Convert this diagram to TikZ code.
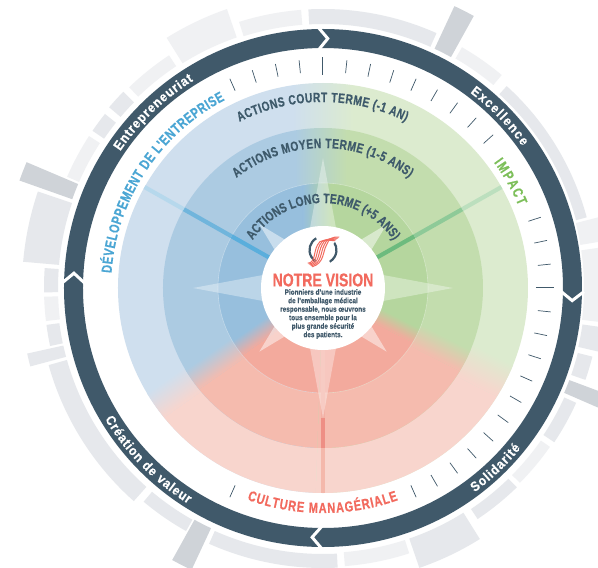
\documentclass[tikz,border=0pt]{standalone}
\usepackage{fontspec}
\usetikzlibrary{decorations.text,calc}
\setmainfont{Liberation Sans}
\newfontfamily\cfa[FakeStretch=0.76,FakeBold=0.5]{Liberation Sans Bold}
\newfontfamily\cfb[FakeStretch=0.9,FakeBold=0.4]{Liberation Sans Bold}
\newfontfamily\cfc[FakeStretch=0.84,FakeBold=0.2]{Liberation Sans Bold}
\definecolor{dark}{HTML}{40596A}
\definecolor{labeldark}{HTML}{3E5A6B}
\definecolor{grayA}{HTML}{E6E8EC}
\definecolor{grayB}{HTML}{F0F1F3}
\definecolor{grayC}{HTML}{CFD3D8}
\definecolor{blueA}{HTML}{CFDFEE}
\definecolor{blueB}{HTML}{ACCBE2}
\definecolor{blueC}{HTML}{97BFDD}
\definecolor{greenA}{HTML}{DCEBCF}
\definecolor{greenB}{HTML}{C3DDAE}
\definecolor{greenC}{HTML}{B5D69E}
\definecolor{redA}{HTML}{F8D5CD}
\definecolor{redB}{HTML}{F5BBAE}
\definecolor{redC}{HTML}{F3AA9D}
\definecolor{logored}{HTML}{F26A5E}
\definecolor{tblue}{HTML}{4BA6D4}
\definecolor{tgreen}{HTML}{7DBF5A}
\definecolor{spG1}{HTML}{6DBB7E}
\definecolor{spG2}{HTML}{8ECA98}
\definecolor{spG3}{HTML}{BCDFBE}
\definecolor{spB1}{HTML}{5AAEDC}
\definecolor{spB2}{HTML}{70B5DC}
\definecolor{spB3}{HTML}{B6D8EC}
\definecolor{spR1}{HTML}{F3B0A4}
\definecolor{spR2}{HTML}{EE8F85}
\definecolor{spR3}{HTML}{F4B8AB}
\newcommand\annseg[5]{\fill[#5] (#1:#3) arc[start angle=#1,end angle=#2,radius=#3 pt] -- (#2:#4) arc[start angle=#2,end angle=#1,radius=#4 pt] -- cycle;}
\newcommand\gradisc[8]{%
 \begin{scope}\clip (0,0) circle[radius=#1 pt];
  \begin{scope}\clip (0,0)--(178:400)--(272:400)--cycle;
   \fill[#2] (-400,-400) rectangle (400,400);
   \begin{scope}[transform canvas={rotate=215}]
    \fill[#4] (-400,#7) rectangle (400,400);
    \shade[bottom color=#2,top color=#4] (-400,-#7) rectangle (400,#7);
   \end{scope}
  \end{scope}
  \begin{scope}\clip (0,0)--(268:400)--(362:400)--cycle;
   \fill[#3] (-400,-400) rectangle (400,400);
   \begin{scope}[transform canvas={rotate=-27}]
    \fill[#4] (-400,-400) rectangle (400,-#8);
    \shade[bottom color=#4,top color=#3] (-400,-#8) rectangle (400,#8);
   \end{scope}
  \end{scope}
  \begin{scope}\clip (-400,0) rectangle (400,400);
   \fill[#2] (-400,0) rectangle (#5,400);
   \fill[#3] (#6,0) rectangle (400,400);
   \shade[left color=#2,right color=#3] (#5,0) rectangle (#6,400);
  \end{scope}
 \end{scope}}
\newcommand\arctext[5]{\path[decorate,decoration={text along path,text align=fit to path,text={|#1|#5}}] (#2:#4) arc[start angle=#2,end angle=#3,radius=#4 pt];}
\begin{document}
\begin{tikzpicture}[x=1pt,y=1pt,
  tick/.style={draw=dark,line width=0.7pt},
  spike/.style={fill=white,fill opacity=0.35},
  dspike/.style={fill=white,fill opacity=0.48},
  spoke/.style={line width=4.2pt},
  chev/.style={draw=white,line width=3pt,miter limit=10},
  stripe/.style={draw=logored,line width=1pt}]
\useasboundingbox (-323,-280) rectangle (275,288);
\clip (-323,-280) rectangle (275,288);
\fill[white] (-323,-280) rectangle (275,288);
\foreach \a/\b/\r/\s/\c in {
 94.5/107.5/264/279/grayB, 66/93/264/279/grayA, 61/65/264/311/grayC,
 50/60/265/278/grayB, 15/47.7/262/273/grayA, 9.5/14.4/261/288/grayB,
 -7/8.3/261/300/grayB, -13/-8/262/300/grayA, -19.3/-14.3/263/278/grayA,
 -23.5/-20.5/263/315/grayC, -33.7/-24.4/265/278/grayA, -44.7/-35/266/277/grayB,
 -56.2/-45.8/266/278/grayA, -71/-58/265/296/grayA, -85.5/-72/265/279/grayB,
 246/273/266/280/grayA, 241/245/265/311/grayC, 230/240.6/266/279/grayA,
 195.7/228.4/266/285/grayA, 192.5/195/266/303/grayA, 187.6/192/266/279/grayA,
 181.8/186.8/265/279/grayB, 175.9/180.9/265/279/grayA, 161.3/175/265/301/grayA,
 157/160.5/266/322/grayC, 147/156.5/266/279/grayB, 141.4/145.7/265/279/grayA,
 135.5/139.8/265/280/grayA, 123.5/134/266/279/grayB, 109/122/265/295/grayB}
 {\annseg{\a}{\b}{\r}{\s}{\c}}
\draw[dark,line width=19pt] (0,0) circle[radius=249.5pt];
\foreach \b/\t in {91.1/88.9, -0.8/-2.9, 269.8/267.5, 178.9/176.6}
 {\draw[chev] (\b:261) -- (\t:249.5) -- (\b:238);}
\gradisc{205}{blueA}{greenA}{redA}{-30}{30}{15}{18}
\gradisc{160}{blueB}{greenB}{redB}{-28}{24}{12}{12}
\gradisc{105}{blueC}{greenC}{redC}{-20}{8}{9}{8}
\draw[white,opacity=0.35,line width=0.6pt] (0,0) circle[radius=105pt];
\draw[spoke,color=spB1] (150.5:62) -- (150.5:105);
\draw[spoke,color=spB2] (150.5:105) -- (150.5:160);
\draw[spoke,color=spB3] (150.5:160) -- (150.5:205);
\draw[spoke,color=spG1] (29.5:62) -- (29.5:105);
\draw[spoke,color=spG2] (29.5:105) -- (29.5:160);
\draw[spoke,color=spG3] (29.5:160) -- (29.5:205);
\draw[spoke,color=spR1] (270:62) -- (270:130);
\draw[spoke,color=spR2] (270:130) -- (270:160);
\draw[spoke,color=spR3] (270:160) -- (270:205);
\foreach \a in {0,90,180,270}
 {\fill[spike] (\a:130) -- ($(\a:60)+(\a+90:13)$) -- ($(\a:60)+(\a-90:13)$) -- cycle;}
\foreach \a in {45,135,225,315}
 {\fill[dspike] (\a:90) -- ($(\a:58)+(\a+90:8)$) -- ($(\a:58)+(\a-90:8)$) -- cycle;}
\foreach \a in {84,78,...,42,18,12,6,-6,-12,...,-66,96,102,108,114,246}
 {\draw[tick] (\a:216) -- (\a:229);}
\foreach \a in {90,0}
 {\draw[tick,line width=1pt] (\a:213) -- (\a:231);}
\fill[white] (0,0) circle[radius=62pt];
\begin{scope}[shift={(0,38)}]
 \draw[dark,line width=2.2pt] (120:13.5) arc[start angle=120,end angle=240,radius=13.5pt];
 \draw[dark,line width=2.2pt] (60:13.5) arc[start angle=60,end angle=-60,radius=13.5pt];
 \fill[white] (-14,-17) .. controls (-3,-16) and (-9,-2) .. (-5,9) .. controls (-2,15) and (7,15) .. (15,13) -- (12,8) .. controls (8,6) and (10,-6) .. (6,-11) .. controls (2,-17) and (-6,-19) .. (-14,-17) -- cycle;
 \foreach \d in {-4.5,-2.25,0,2.25,4.5}
  {\draw[stripe] (-13+\d*0.5,-15-\d*0.4) .. controls (-3+\d,-13) and (-5+\d,-2) .. (-1+\d,5) .. controls (1+\d,11) and (7+\d*0.6,12+\d*0.4) .. (14+\d*0.5,11+\d*0.4);}
\end{scope}
\node[font=\cfa\fontsize{18.5}{18.5}\selectfont,text=logored,inner sep=0pt] (title) at (0,8) {NOTRE VISION};
\node[font=\cfc\fontsize{7.6}{8.5}\selectfont,text=dark,align=center,inner sep=0pt] (body) at (0,-26) {Pionniers d’une industrie\\de l’emballage médical\\responsable, nous œuvrons\\tous ensemble pour la\\plus grande sécurité\\des patients.};
\arctext{\cfb\fontsize{13.5}{13.5}\selectfont\color{white}}{53}{35.4}{244.5}{Excellence}
\arctext{\cfb\fontsize{13.5}{13.5}\selectfont\color{white}}{146}{122}{244.5}{Entrepreneuriat}
\arctext{\cfb\fontsize{13.5}{13.5}\selectfont\color{white}}{-53.4}{-39}{254.5}{Solidarité}
\arctext{\cfb\fontsize{13.5}{13.5}\selectfont\color{white}}{211}{238}{254.5}{Création de valeur}
\arctext{\cfa\fontsize{14.5}{14.5}\selectfont\color{tblue}}{176}{117.6}{212}{DÉVELOPPEMENT DE L'ENTREPRISE}
\arctext{\cfa\fontsize{14.5}{14.5}\selectfont\color{tgreen}}{36.3}{22.8}{212}{IMPACT}
\arctext{\cfa\fontsize{14.5}{14.5}\selectfont\color{logored}}{250.3}{289.5}{225}{CULTURE MANAGÉRIALE}
\arctext{\cfa\fontsize{13.5}{13.5}\selectfont\color{labeldark}}{116.7}{63.6}{186}{ACTIONS COURT TERME (-1 AN)}
\arctext{\cfa\fontsize{13.5}{13.5}\selectfont\color{labeldark}}{128.2}{52}{140}{ACTIONS MOYEN TERME (1-5 ANS)}
\arctext{\cfa\fontsize{13.5}{13.5}\selectfont\color{labeldark}}{145.8}{33.9}{85}{ACTIONS LONG TERME (+5 ANS)}
\end{tikzpicture}
\end{document}
